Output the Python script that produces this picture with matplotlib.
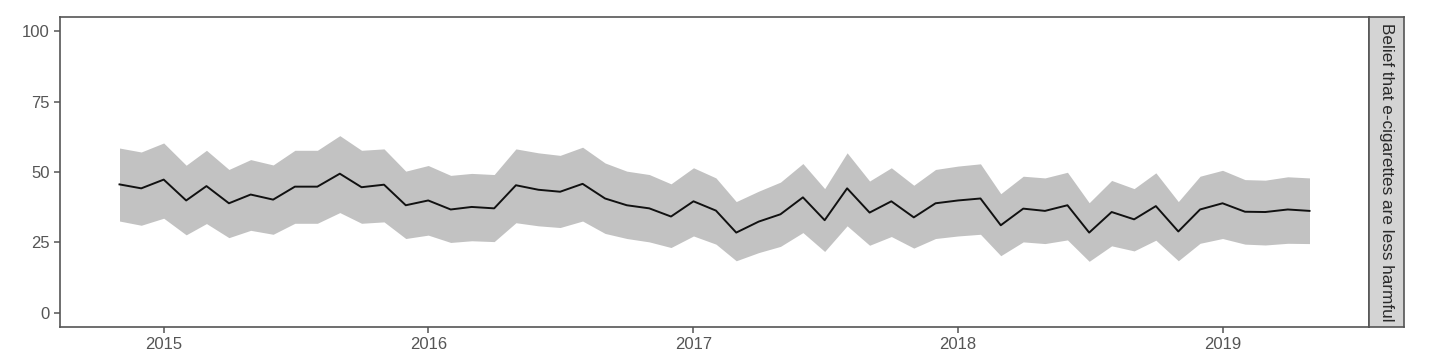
import numpy as np
import pandas as pd
import matplotlib
matplotlib.use("Agg")
import matplotlib.pyplot as plt

plt.rcParams["font.family"] = ["Liberation Sans", "DejaVu Sans"]

# monthly survey estimates, Nov 2014 - May 2019
months = pd.date_range("2014-11-01", "2019-05-01", freq="MS")

estimate = [45.6, 44.2, 47.3, 39.9, 45.0, 38.9, 42.0, 40.2, 44.8, 44.8,
            49.4, 44.6, 45.5, 38.2, 39.9, 36.7, 37.6, 37.1, 45.3, 43.7,
            43.0, 45.8, 40.6, 38.2, 37.1, 34.2, 39.6, 36.3, 28.5, 32.4,
            35.0, 41.0, 32.9, 44.2, 35.6, 39.6, 33.9, 38.9, 39.9, 40.6,
            31.1, 37.0, 36.2, 38.2, 28.5, 35.8, 33.2, 37.9, 28.9, 36.7,
            38.9, 35.9, 35.8, 36.7, 36.2]
upper = [58.5, 57.1, 60.3, 52.4, 57.7, 50.9, 54.4, 52.5, 57.7, 57.7,
         62.9, 57.7, 58.2, 50.3, 52.3, 48.8, 49.5, 49.1, 58.2, 56.8,
         55.9, 58.8, 53.2, 50.3, 49.1, 45.8, 51.5, 47.9, 39.5, 43.2,
         46.4, 53.0, 44.1, 56.8, 46.8, 51.5, 45.3, 50.9, 52.1, 52.9,
         42.3, 48.5, 47.9, 49.9, 39.1, 47.0, 44.1, 49.7, 39.5, 48.5,
         50.6, 47.3, 47.1, 48.3, 47.9]
lower = [32.6, 31.1, 33.6, 27.7, 31.7, 26.7, 29.3, 27.9, 31.8, 31.8,
         35.6, 31.8, 32.3, 26.4, 27.6, 25.0, 25.6, 25.3, 32.0, 30.9,
         30.3, 32.6, 28.2, 26.4, 25.2, 23.2, 27.3, 24.4, 18.5, 21.4,
         23.6, 28.5, 21.8, 30.9, 24.0, 27.1, 23.0, 26.4, 27.3, 27.9,
         20.3, 25.2, 24.6, 25.9, 18.3, 23.8, 22.0, 25.8, 18.5, 24.7,
         26.4, 24.4, 24.1, 24.7, 24.6]

strip_label = "Belief that e-cigarettes are less harmful"
year_ticks = pd.to_datetime(["2015-01-01", "2016-01-01", "2017-01-01", "2018-01-01", "2019-01-01"])
year_labels = ["2015", "2016", "2017", "2018", "2019"]
y_ticks = [0, 25, 50, 75, 100]

fig = plt.figure(figsize=(14.4, 3.62), dpi=100)
ax = fig.add_axes([60 / 1440, 35 / 362, 1309 / 1440, 310 / 362])

ax.fill_between(months, lower, upper, color="#c2c2c2", linewidth=0)
ax.plot(months, estimate, color="#111111", linewidth=1.4)

# ggplot-style 5% expansion
span = months[-1] - months[0]
ax.set_xlim(months[0] - span * 0.05, months[-1] + span * 0.05)
ax.set_ylim(-5, 105)
ax.set_xticks(year_ticks)
ax.set_xticklabels(year_labels)
ax.set_yticks(y_ticks)

for s in ax.spines.values():
    s.set_color("#555555")
    s.set_linewidth(1.2)
ax.tick_params(colors="#555555", labelcolor="#555555", labelsize=12, length=4, width=1.1)

# facet strip on the right
strip = fig.add_axes([1369 / 1440, 35 / 362, 35 / 1440, 310 / 362])
strip.set_facecolor("#d4d4d4")
strip.set_xticks([])
strip.set_yticks([])
for s in strip.spines.values():
    s.set_color("#555555")
    s.set_linewidth(1.2)
strip.text(0.5, 0.5, strip_label, rotation=-90, ha="center", va="center",
           fontsize=12.3, color="#2a2a2a", transform=strip.transAxes)

fig.savefig("out.png", dpi=100)
